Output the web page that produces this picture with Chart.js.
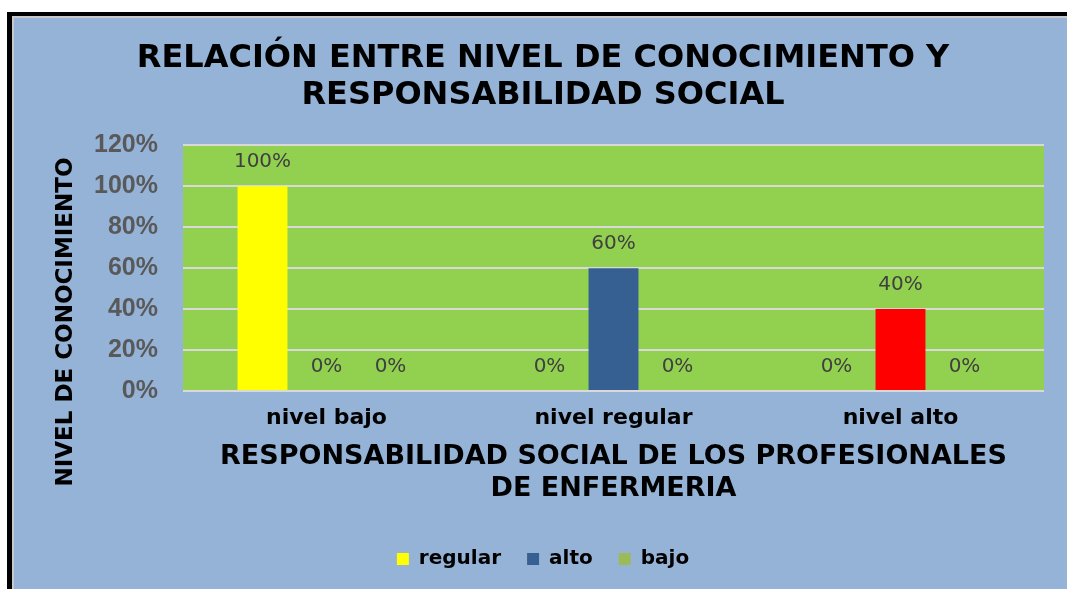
<!DOCTYPE html>
<html>
<head>
<meta charset="utf-8">
<script src="https://cdn.jsdelivr.net/npm/chart.js@4.4.1/dist/chart.umd.min.js"></script>
<style>
  html, body { margin: 0; padding: 0; background: #ffffff; overflow: hidden; width: 1067px; height: 589px; }
  #frame { position: absolute; left: 7px; top: 12px; width: 1200px; height: 700px; background: #000; }
  #inner { position: absolute; left: 5px; top: 4px; width: 1200px; height: 700px; background: #c9c9c9; }
  #fill { position: absolute; left: 2px; top: 2px; width: 1200px; height: 700px; background: #95b3d7; }
  #wrap { position: absolute; left: 0; top: 0; width: 1086px; height: 589px; }
</style>
</head>
<body>
<div id="frame"><div id="inner"><div id="fill"></div></div></div>
<div id="wrap"><canvas id="c" width="1086" height="589"></canvas></div>
<script>
const categories = ['nivel bajo', 'nivel regular', 'nivel alto'];
const seriesNames = ['regular', 'alto', 'bajo'];
const regularValues = [100, 0, 0];
const altoValues = [0, 60, 40];
const bajoValues = [0, 0, 0];
const yTickValues = [0, 20, 40, 60, 80, 100, 120];

const titleLines = ['RELACIÓN ENTRE NIVEL DE CONOCIMIENTO Y', 'RESPONSABILIDAD SOCIAL'];
const xTitleLines = ['RESPONSABILIDAD SOCIAL DE LOS PROFESIONALES', 'DE ENFERMERIA'];
const yTitleText = 'NIVEL DE CONOCIMIENTO';

const plotBg = {
  id: 'plotBg',
  beforeDraw(chart) {
    const {ctx, chartArea: a} = chart;
    ctx.save();
    ctx.fillStyle = '#92d050';
    ctx.fillRect(a.left, a.top, a.right - a.left, a.bottom - a.top);
    ctx.restore();
  }
};

const valueLabels = {
  id: 'valueLabels',
  afterDatasetsDraw(chart) {
    const {ctx} = chart;
    ctx.save();
    ctx.font = '20px "DejaVu Sans"';
    ctx.fillStyle = '#404040';
    ctx.textAlign = 'center';
    ctx.textBaseline = 'alphabetic';
    chart.data.datasets.forEach((ds, di) => {
      const meta = chart.getDatasetMeta(di);
      meta.data.forEach((el, i) => {
        ctx.fillText(ds.data[i] + '%', el.x, el.y - 19);
      });
    });
    ctx.restore();
  }
};

const yTitle = {
  id: 'yTitle',
  afterDraw(chart) {
    const {ctx} = chart;
    ctx.save();
    ctx.translate(66, 322);
    ctx.rotate(-Math.PI / 2);
    ctx.font = 'bold 23px "DejaVu Sans"';
    ctx.fillStyle = '#000000';
    ctx.textAlign = 'center';
    ctx.textBaseline = 'middle';
    ctx.fillText(yTitleText, 0, 0);
    ctx.restore();
  }
};

new Chart(document.getElementById('c'), {
  type: 'bar',
  data: {
    labels: categories,
    datasets: [
      { label: seriesNames[0], data: regularValues, backgroundColor: '#ffff00', borderWidth: 0 },
      { label: seriesNames[1], data: altoValues, backgroundColor: ['#376092', '#376092', '#ff0000'], borderWidth: 0 },
      { label: seriesNames[2], data: bajoValues, backgroundColor: '#9bbb59', borderWidth: 0 }
    ]
  },
  options: {
    responsive: false,
    animation: false,
    devicePixelRatio: 1,
    categoryPercentage: 0.669,
    barPercentage: 0.78,
    layout: { padding: { left: 42, right: 42, top: 0, bottom: 10 } },
    plugins: {
      title: {
        display: true,
        text: titleLines,
        color: '#000000',
        font: { family: '"DejaVu Sans"', size: 32, weight: 'bold', lineHeight: 1.13 },
        padding: { top: 41, bottom: 32 }
      },
      legend: {
        position: 'bottom',
        labels: {
          boxWidth: 12,
          boxHeight: 12,
          padding: 26,
          color: '#000000',
          font: { family: '"DejaVu Sans"', size: 20, weight: 'bold' }
        }
      },
      tooltip: { enabled: false }
    },
    scales: {
      x: {
        grid: { display: false, drawTicks: false },
        border: { display: false },
        ticks: {
          color: '#000000',
          padding: 14,
          font: { family: '"DejaVu Sans"', size: 22, weight: 'bold' }
        },
        title: {
          display: true,
          text: xTitleLines,
          color: '#000000',
          font: { family: '"DejaVu Sans"', size: 27, weight: 'bold', lineHeight: 1.19 },
          padding: { top: 0, bottom: 18 }
        },
        afterFit(scale) { scale.height = 132; }
      },
      y: {
        min: 0,
        max: 120,
        afterBuildTicks(scale) { scale.ticks = yTickValues.map(v => ({ value: v })); },
        grid: { color: '#d9d9d9', lineWidth: 2, drawTicks: false },
        border: { display: false },
        ticks: {
          color: '#595959',
          padding: 25,
          font: { family: '"Liberation Sans"', size: 25, weight: 'bold' },
          callback: (v) => v + '%'
        },
        afterFit(scale) { scale.width = 141; }
      }
    }
  },
  plugins: [plotBg, valueLabels, yTitle]
});
</script>
</body>
</html>
